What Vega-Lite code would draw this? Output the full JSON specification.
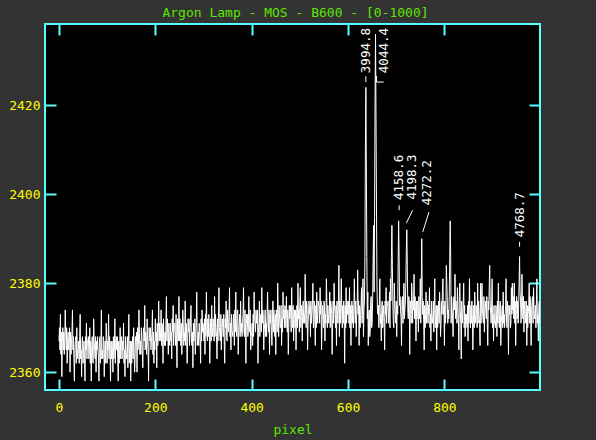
{
"$schema": "https://vega.github.io/schema/vega-lite/v6.json",
"width": 495, "height": 366,
"autosize": {"type": "none"},
"padding": {"left": 45, "top": 24, "right": 56, "bottom": 50},
"background": "#333333",
"title": {"text": "Argon Lamp - MOS - B600 - [0-1000]", "color": "#5ce600", "font": "DejaVu Sans Mono", "fontSize": 13, "fontWeight": "normal", "anchor": "middle", "offset": 3, "dx": 3},
"config": {
  "view": {"stroke": "#55ffff", "strokeWidth": 2, "fill": "#000000"},
  "axis": {"domain": false, "grid": false, "tickColor": "#55ffff", "tickWidth": 2, "tickSize": -11,
           "labelColor": "#ffff00", "labelFont": "DejaVu Sans Mono", "labelFontSize": 13,
           "titleColor": "#5ce600", "titleFont": "DejaVu Sans Mono", "titleFontSize": 13, "titleFontWeight": "normal"}
},
"resolve": {"axis": {"x": "independent", "y": "independent"}},
"layer": [
{
 "data": {"values": [
{"x":0,"y":2367},{"x":1,"y":2370},{"x":2,"y":2365},{"x":3,"y":2373},{"x":4,"y":2364},{"x":5,"y":2369},{"x":6,"y":2359},{"x":7,"y":2367},{"x":8,"y":2370},{"x":9,"y":2365},
{"x":10,"y":2369},{"x":11,"y":2364},{"x":12,"y":2367},{"x":13,"y":2374},{"x":14,"y":2369},{"x":15,"y":2365},{"x":16,"y":2370},{"x":17,"y":2362},{"x":18,"y":2367},{"x":19,"y":2369},
{"x":20,"y":2365},{"x":21,"y":2367},{"x":22,"y":2370},{"x":23,"y":2360},{"x":24,"y":2369},{"x":25,"y":2364},{"x":26,"y":2367},{"x":27,"y":2369},{"x":28,"y":2374},{"x":29,"y":2365},
{"x":30,"y":2368},{"x":31,"y":2363},{"x":32,"y":2358},{"x":33,"y":2365},{"x":34,"y":2367},{"x":35,"y":2368},{"x":36,"y":2362},{"x":37,"y":2370},{"x":38,"y":2365},{"x":39,"y":2363},
{"x":40,"y":2365},{"x":41,"y":2367},{"x":42,"y":2362},{"x":43,"y":2368},{"x":44,"y":2373},{"x":45,"y":2363},{"x":46,"y":2365},{"x":47,"y":2359},{"x":48,"y":2367},{"x":49,"y":2368},
{"x":50,"y":2362},{"x":51,"y":2365},{"x":52,"y":2367},{"x":53,"y":2363},{"x":54,"y":2358},{"x":55,"y":2368},{"x":56,"y":2365},{"x":57,"y":2371},{"x":58,"y":2363},{"x":59,"y":2367},
{"x":60,"y":2367},{"x":61,"y":2368},{"x":62,"y":2363},{"x":63,"y":2365},{"x":64,"y":2370},{"x":65,"y":2362},{"x":66,"y":2367},{"x":67,"y":2358},{"x":68,"y":2365},{"x":69,"y":2368},
{"x":70,"y":2363},{"x":71,"y":2362},{"x":72,"y":2372},{"x":73,"y":2367},{"x":74,"y":2365},{"x":75,"y":2363},{"x":76,"y":2368},{"x":77,"y":2360},{"x":78,"y":2367},{"x":79,"y":2365},
{"x":80,"y":2368},{"x":81,"y":2365},{"x":82,"y":2363},{"x":83,"y":2358},{"x":84,"y":2367},{"x":85,"y":2368},{"x":86,"y":2362},{"x":87,"y":2365},{"x":88,"y":2374},{"x":89,"y":2363},
{"x":90,"y":2365},{"x":91,"y":2363},{"x":92,"y":2368},{"x":93,"y":2367},{"x":94,"y":2359},{"x":95,"y":2365},{"x":96,"y":2367},{"x":97,"y":2362},{"x":98,"y":2371},{"x":99,"y":2368},
{"x":100,"y":2362},{"x":101,"y":2367},{"x":102,"y":2365},{"x":103,"y":2373},{"x":104,"y":2363},{"x":105,"y":2368},{"x":106,"y":2365},{"x":107,"y":2358},{"x":108,"y":2367},{"x":109,"y":2363},
{"x":110,"y":2367},{"x":111,"y":2365},{"x":112,"y":2360},{"x":113,"y":2368},{"x":114,"y":2363},{"x":115,"y":2365},{"x":116,"y":2372},{"x":117,"y":2362},{"x":118,"y":2367},{"x":119,"y":2368},
{"x":120,"y":2365},{"x":121,"y":2368},{"x":122,"y":2363},{"x":123,"y":2358},{"x":124,"y":2367},{"x":125,"y":2362},{"x":126,"y":2365},{"x":127,"y":2370},{"x":128,"y":2363},{"x":129,"y":2367},
{"x":130,"y":2368},{"x":131,"y":2363},{"x":132,"y":2367},{"x":133,"y":2365},{"x":134,"y":2371},{"x":135,"y":2362},{"x":136,"y":2365},{"x":137,"y":2359},{"x":138,"y":2368},{"x":139,"y":2363},
{"x":140,"y":2363},{"x":141,"y":2365},{"x":142,"y":2368},{"x":143,"y":2361},{"x":144,"y":2367},{"x":145,"y":2373},{"x":146,"y":2362},{"x":147,"y":2365},{"x":148,"y":2367},{"x":149,"y":2358},
{"x":150,"y":2367},{"x":151,"y":2362},{"x":152,"y":2365},{"x":153,"y":2368},{"x":154,"y":2363},{"x":155,"y":2370},{"x":156,"y":2365},{"x":157,"y":2360},{"x":158,"y":2363},{"x":159,"y":2368},
{"x":160,"y":2367},{"x":161,"y":2369},{"x":162,"y":2360},{"x":163,"y":2370},{"x":164,"y":2365},{"x":165,"y":2367},{"x":166,"y":2374},{"x":167,"y":2369},{"x":168,"y":2364},{"x":169,"y":2367},
{"x":170,"y":2364},{"x":171,"y":2370},{"x":172,"y":2367},{"x":173,"y":2365},{"x":174,"y":2361},{"x":175,"y":2369},{"x":176,"y":2370},{"x":177,"y":2367},{"x":178,"y":2375},{"x":179,"y":2365},
{"x":180,"y":2369},{"x":181,"y":2367},{"x":182,"y":2364},{"x":183,"y":2372},{"x":184,"y":2367},{"x":185,"y":2365},{"x":186,"y":2358},{"x":187,"y":2370},{"x":188,"y":2369},{"x":189,"y":2367},
{"x":190,"y":2370},{"x":191,"y":2365},{"x":192,"y":2367},{"x":193,"y":2369},{"x":194,"y":2374},{"x":195,"y":2364},{"x":196,"y":2369},{"x":197,"y":2362},{"x":198,"y":2367},{"x":199,"y":2365},
{"x":200,"y":2372},{"x":201,"y":2367},{"x":202,"y":2369},{"x":203,"y":2361},{"x":204,"y":2371},{"x":205,"y":2366},{"x":206,"y":2369},{"x":207,"y":2376},{"x":208,"y":2367},{"x":209,"y":2371},
{"x":210,"y":2367},{"x":211,"y":2369},{"x":212,"y":2374},{"x":213,"y":2366},{"x":214,"y":2371},{"x":215,"y":2369},{"x":216,"y":2362},{"x":217,"y":2372},{"x":218,"y":2367},{"x":219,"y":2366},
{"x":220,"y":2369},{"x":221,"y":2366},{"x":222,"y":2371},{"x":223,"y":2377},{"x":224,"y":2367},{"x":225,"y":2372},{"x":226,"y":2369},{"x":227,"y":2364},{"x":228,"y":2371},{"x":229,"y":2367},
{"x":230,"y":2366},{"x":231,"y":2371},{"x":232,"y":2367},{"x":233,"y":2369},{"x":234,"y":2363},{"x":235,"y":2372},{"x":236,"y":2369},{"x":237,"y":2375},{"x":238,"y":2366},{"x":239,"y":2371},
{"x":240,"y":2371},{"x":241,"y":2369},{"x":242,"y":2366},{"x":243,"y":2373},{"x":244,"y":2367},{"x":245,"y":2361},{"x":246,"y":2372},{"x":247,"y":2369},{"x":248,"y":2367},{"x":249,"y":2377},
{"x":250,"y":2367},{"x":251,"y":2372},{"x":252,"y":2369},{"x":253,"y":2366},{"x":254,"y":2371},{"x":255,"y":2364},{"x":256,"y":2369},{"x":257,"y":2374},{"x":258,"y":2371},{"x":259,"y":2366},
{"x":260,"y":2369},{"x":261,"y":2367},{"x":262,"y":2376},{"x":263,"y":2366},{"x":264,"y":2371},{"x":265,"y":2369},{"x":266,"y":2362},{"x":267,"y":2367},{"x":268,"y":2372},{"x":269,"y":2369},
{"x":270,"y":2372},{"x":271,"y":2366},{"x":272,"y":2369},{"x":273,"y":2371},{"x":274,"y":2375},{"x":275,"y":2367},{"x":276,"y":2366},{"x":277,"y":2369},{"x":278,"y":2361},{"x":279,"y":2371},
{"x":280,"y":2367},{"x":281,"y":2369},{"x":282,"y":2372},{"x":283,"y":2364},{"x":284,"y":2369},{"x":285,"y":2371},{"x":286,"y":2378},{"x":287,"y":2366},{"x":288,"y":2367},{"x":289,"y":2369},
{"x":290,"y":2366},{"x":291,"y":2371},{"x":292,"y":2369},{"x":293,"y":2367},{"x":294,"y":2362},{"x":295,"y":2372},{"x":296,"y":2367},{"x":297,"y":2374},{"x":298,"y":2369},{"x":299,"y":2371},
{"x":300,"y":2370},{"x":301,"y":2367},{"x":302,"y":2372},{"x":303,"y":2364},{"x":304,"y":2373},{"x":305,"y":2368},{"x":306,"y":2378},{"x":307,"y":2370},{"x":308,"y":2367},{"x":309,"y":2372},
{"x":310,"y":2368},{"x":311,"y":2373},{"x":312,"y":2370},{"x":313,"y":2362},{"x":314,"y":2368},{"x":315,"y":2372},{"x":316,"y":2367},{"x":317,"y":2375},{"x":318,"y":2370},{"x":319,"y":2368},
{"x":320,"y":2372},{"x":321,"y":2370},{"x":322,"y":2367},{"x":323,"y":2377},{"x":324,"y":2368},{"x":325,"y":2373},{"x":326,"y":2370},{"x":327,"y":2368},{"x":328,"y":2363},{"x":329,"y":2372},
{"x":330,"y":2367},{"x":331,"y":2372},{"x":332,"y":2379},{"x":333,"y":2370},{"x":334,"y":2368},{"x":335,"y":2367},{"x":336,"y":2373},{"x":337,"y":2365},{"x":338,"y":2370},{"x":339,"y":2372},
{"x":340,"y":2370},{"x":341,"y":2368},{"x":342,"y":2373},{"x":343,"y":2367},{"x":344,"y":2362},{"x":345,"y":2372},{"x":346,"y":2370},{"x":347,"y":2376},{"x":348,"y":2368},{"x":349,"y":2367},
{"x":350,"y":2374},{"x":351,"y":2371},{"x":352,"y":2369},{"x":353,"y":2373},{"x":354,"y":2379},{"x":355,"y":2368},{"x":356,"y":2371},{"x":357,"y":2365},{"x":358,"y":2373},{"x":359,"y":2369},
{"x":360,"y":2369},{"x":361,"y":2368},{"x":362,"y":2373},{"x":363,"y":2371},{"x":364,"y":2366},{"x":365,"y":2374},{"x":366,"y":2369},{"x":367,"y":2378},{"x":368,"y":2371},{"x":369,"y":2368},
{"x":370,"y":2373},{"x":371,"y":2374},{"x":372,"y":2364},{"x":373,"y":2369},{"x":374,"y":2371},{"x":375,"y":2373},{"x":376,"y":2368},{"x":377,"y":2376},{"x":378,"y":2369},{"x":379,"y":2371},
{"x":380,"y":2368},{"x":381,"y":2371},{"x":382,"y":2373},{"x":383,"y":2379},{"x":384,"y":2369},{"x":385,"y":2368},{"x":386,"y":2374},{"x":387,"y":2371},{"x":388,"y":2362},{"x":389,"y":2373},
{"x":390,"y":2371},{"x":391,"y":2373},{"x":392,"y":2368},{"x":393,"y":2369},{"x":394,"y":2377},{"x":395,"y":2371},{"x":396,"y":2369},{"x":397,"y":2374},{"x":398,"y":2365},{"x":399,"y":2368},
{"x":400,"y":2369},{"x":401,"y":2371},{"x":402,"y":2366},{"x":403,"y":2373},{"x":404,"y":2368},{"x":405,"y":2378},{"x":406,"y":2373},{"x":407,"y":2371},{"x":408,"y":2369},{"x":409,"y":2374},
{"x":410,"y":2371},{"x":411,"y":2373},{"x":412,"y":2374},{"x":413,"y":2362},{"x":414,"y":2369},{"x":415,"y":2371},{"x":416,"y":2376},{"x":417,"y":2368},{"x":418,"y":2371},{"x":419,"y":2373},
{"x":420,"y":2369},{"x":421,"y":2379},{"x":422,"y":2371},{"x":423,"y":2374},{"x":424,"y":2373},{"x":425,"y":2365},{"x":426,"y":2369},{"x":427,"y":2371},{"x":428,"y":2374},{"x":429,"y":2368},
{"x":430,"y":2371},{"x":431,"y":2368},{"x":432,"y":2373},{"x":433,"y":2378},{"x":434,"y":2371},{"x":435,"y":2369},{"x":436,"y":2374},{"x":437,"y":2364},{"x":438,"y":2373},{"x":439,"y":2371},
{"x":440,"y":2374},{"x":441,"y":2369},{"x":442,"y":2366},{"x":443,"y":2371},{"x":444,"y":2376},{"x":445,"y":2369},{"x":446,"y":2374},{"x":447,"y":2371},{"x":448,"y":2368},{"x":449,"y":2373},
{"x":450,"y":2364},{"x":451,"y":2374},{"x":452,"y":2372},{"x":453,"y":2369},{"x":454,"y":2380},{"x":455,"y":2374},{"x":456,"y":2368},{"x":457,"y":2375},{"x":458,"y":2372},{"x":459,"y":2370},
{"x":460,"y":2370},{"x":461,"y":2375},{"x":462,"y":2366},{"x":463,"y":2372},{"x":464,"y":2369},{"x":465,"y":2378},{"x":466,"y":2372},{"x":467,"y":2374},{"x":468,"y":2370},{"x":469,"y":2375},
{"x":470,"y":2374},{"x":471,"y":2370},{"x":472,"y":2377},{"x":473,"y":2372},{"x":474,"y":2369},{"x":475,"y":2374},{"x":476,"y":2364},{"x":477,"y":2370},{"x":478,"y":2375},{"x":479,"y":2372},
{"x":480,"y":2375},{"x":481,"y":2374},{"x":482,"y":2369},{"x":483,"y":2379},{"x":484,"y":2372},{"x":485,"y":2370},{"x":486,"y":2375},{"x":487,"y":2367},{"x":488,"y":2372},{"x":489,"y":2374},
{"x":490,"y":2370},{"x":491,"y":2374},{"x":492,"y":2365},{"x":493,"y":2372},{"x":494,"y":2375},{"x":495,"y":2370},{"x":496,"y":2380},{"x":497,"y":2372},{"x":498,"y":2374},{"x":499,"y":2369},
{"x":500,"y":2376},{"x":501,"y":2379},{"x":502,"y":2370},{"x":503,"y":2375},{"x":504,"y":2373},{"x":505,"y":2367},{"x":506,"y":2375},{"x":507,"y":2376},{"x":508,"y":2371},{"x":509,"y":2373},
{"x":510,"y":2371},{"x":511,"y":2382},{"x":512,"y":2373},{"x":513,"y":2370},{"x":514,"y":2376},{"x":515,"y":2375},{"x":516,"y":2365},{"x":517,"y":2371},{"x":518,"y":2373},{"x":519,"y":2376},
{"x":520,"y":2373},{"x":521,"y":2375},{"x":522,"y":2368},{"x":523,"y":2376},{"x":524,"y":2371},{"x":525,"y":2373},{"x":526,"y":2375},{"x":527,"y":2380},{"x":528,"y":2370},{"x":529,"y":2371},
{"x":530,"y":2376},{"x":531,"y":2373},{"x":532,"y":2366},{"x":533,"y":2375},{"x":534,"y":2370},{"x":535,"y":2378},{"x":536,"y":2373},{"x":537,"y":2371},{"x":538,"y":2376},{"x":539,"y":2375},
{"x":540,"y":2375},{"x":541,"y":2371},{"x":542,"y":2379},{"x":543,"y":2373},{"x":544,"y":2376},{"x":545,"y":2365},{"x":546,"y":2371},{"x":547,"y":2375},{"x":548,"y":2373},{"x":549,"y":2370},
{"x":550,"y":2376},{"x":551,"y":2375},{"x":552,"y":2367},{"x":553,"y":2373},{"x":554,"y":2371},{"x":555,"y":2381},{"x":556,"y":2376},{"x":557,"y":2370},{"x":558,"y":2375},{"x":559,"y":2373},
{"x":560,"y":2371},{"x":561,"y":2373},{"x":562,"y":2378},{"x":563,"y":2370},{"x":564,"y":2376},{"x":565,"y":2375},{"x":566,"y":2373},{"x":567,"y":2364},{"x":568,"y":2371},{"x":569,"y":2376},
{"x":570,"y":2371},{"x":571,"y":2380},{"x":572,"y":2375},{"x":573,"y":2373},{"x":574,"y":2370},{"x":575,"y":2375},{"x":576,"y":2366},{"x":577,"y":2376},{"x":578,"y":2373},{"x":579,"y":2371},
{"x":580,"y":2375},{"x":581,"y":2384},{"x":582,"y":2368},{"x":583,"y":2376},{"x":584,"y":2371},{"x":585,"y":2375},{"x":586,"y":2381},{"x":587,"y":2373},{"x":588,"y":2370},{"x":589,"y":2375},
{"x":590,"y":2371},{"x":591,"y":2376},{"x":592,"y":2373},{"x":593,"y":2362},{"x":594,"y":2375},{"x":595,"y":2370},{"x":596,"y":2379},{"x":597,"y":2371},{"x":598,"y":2376},{"x":599,"y":2373},
{"x":600,"y":2373},{"x":601,"y":2376},{"x":602,"y":2371},{"x":603,"y":2379},{"x":604,"y":2370},{"x":605,"y":2375},{"x":606,"y":2366},{"x":607,"y":2373},{"x":608,"y":2376},{"x":609,"y":2371},
{"x":610,"y":2375},{"x":611,"y":2370},{"x":612,"y":2373},{"x":613,"y":2381},{"x":614,"y":2375},{"x":615,"y":2371},{"x":616,"y":2376},{"x":617,"y":2368},{"x":618,"y":2373},{"x":619,"y":2375},
{"x":620,"y":2383},{"x":621,"y":2373},{"x":622,"y":2376},{"x":623,"y":2366},{"x":624,"y":2375},{"x":625,"y":2370},{"x":626,"y":2373},{"x":627,"y":2375},{"x":628,"y":2379},{"x":629,"y":2371},
{"x":630,"y":2373},{"x":631,"y":2381},{"x":632,"y":2368},{"x":633,"y":2374},{"x":634,"y":2376},{"x":635,"y":2386},{"x":636,"y":2410},{"x":637,"y":2424},{"x":638,"y":2405},{"x":639,"y":2386},
{"x":640,"y":2372},{"x":641,"y":2378},{"x":642,"y":2366},{"x":643,"y":2373},{"x":644,"y":2374},{"x":645,"y":2368},{"x":646,"y":2369},{"x":647,"y":2376},{"x":648,"y":2377},{"x":649,"y":2370},
{"x":650,"y":2371},{"x":651,"y":2376},{"x":652,"y":2385},{"x":653,"y":2393},{"x":654,"y":2378},{"x":655,"y":2395},{"x":656,"y":2420},{"x":657,"y":2436},{"x":658,"y":2418},{"x":659,"y":2398},
{"x":660,"y":2380},{"x":661,"y":2374},
{"x":662,"y":2373},{"x":663,"y":2375},{"x":664,"y":2370},{"x":665,"y":2376},{"x":666,"y":2381},{"x":667,"y":2371},{"x":668,"y":2373},{"x":669,"y":2367},{"x":670,"y":2375},{"x":671,"y":2376},
{"x":672,"y":2370},{"x":673,"y":2373},{"x":674,"y":2375},{"x":675,"y":2371},{"x":676,"y":2365},{"x":677,"y":2376},{"x":678,"y":2373},{"x":679,"y":2379},{"x":680,"y":2371},{"x":681,"y":2375},
{"x":682,"y":2375},{"x":683,"y":2376},{"x":684,"y":2371},{"x":685,"y":2373},{"x":686,"y":2378},{"x":687,"y":2370},
{"x":688,"y":2381},{"x":689,"y":2376},{"x":690,"y":2386},{"x":691,"y":2393},{"x":692,"y":2384},{"x":693,"y":2375},
{"x":694,"y":2371},{"x":695,"y":2370},{"x":696,"y":2380},{"x":697,"y":2375},{"x":698,"y":2373},{"x":699,"y":2371},{"x":700,"y":2376},{"x":701,"y":2368},{"x":702,"y":2375},{"x":703,"y":2373},
{"x":704,"y":2385},{"x":705,"y":2394},{"x":706,"y":2386},{"x":707,"y":2375},
{"x":708,"y":2377},{"x":709,"y":2374},{"x":710,"y":2372},{"x":711,"y":2366},{"x":712,"y":2376},{"x":713,"y":2377},{"x":714,"y":2371},{"x":715,"y":2374},{"x":716,"y":2380},{"x":717,"y":2372},
{"x":718,"y":2374},{"x":719,"y":2376},
{"x":720,"y":2380},{"x":721,"y":2388},{"x":722,"y":2392},{"x":723,"y":2384},
{"x":724,"y":2374},{"x":725,"y":2372},{"x":726,"y":2377},{"x":727,"y":2376},{"x":728,"y":2364},{"x":729,"y":2374},{"x":730,"y":2376},{"x":731,"y":2371},{"x":732,"y":2380},{"x":733,"y":2377},
{"x":734,"y":2371},{"x":735,"y":2376},{"x":736,"y":2374},{"x":737,"y":2382},{"x":738,"y":2372},{"x":739,"y":2377},{"x":740,"y":2374},{"x":741,"y":2367},{"x":742,"y":2376},{"x":743,"y":2372},
{"x":744,"y":2376},{"x":745,"y":2374},{"x":746,"y":2369},{"x":747,"y":2377},{"x":748,"y":2372},{"x":749,"y":2374},{"x":750,"y":2381},{"x":751,"y":2371},
{"x":752,"y":2380},{"x":753,"y":2390},{"x":754,"y":2377},
{"x":755,"y":2373},{"x":756,"y":2376},{"x":757,"y":2371},{"x":758,"y":2365},{"x":759,"y":2375},{"x":760,"y":2370},{"x":761,"y":2373},{"x":762,"y":2378},{"x":763,"y":2371},{"x":764,"y":2375},
{"x":765,"y":2376},{"x":766,"y":2371},{"x":767,"y":2375},{"x":768,"y":2373},{"x":769,"y":2379},{"x":770,"y":2370},{"x":771,"y":2373},{"x":772,"y":2367},{"x":773,"y":2376},{"x":774,"y":2371},
{"x":775,"y":2371},{"x":776,"y":2373},{"x":777,"y":2376},{"x":778,"y":2369},{"x":779,"y":2375},{"x":780,"y":2381},{"x":781,"y":2370},{"x":782,"y":2373},{"x":783,"y":2375},{"x":784,"y":2365},
{"x":785,"y":2375},{"x":786,"y":2370},{"x":787,"y":2373},{"x":788,"y":2376},{"x":789,"y":2371},{"x":790,"y":2378},{"x":791,"y":2373},{"x":792,"y":2368},{"x":793,"y":2371},{"x":794,"y":2376},
{"x":795,"y":2373},
{"x":796,"y":2379},{"x":797,"y":2381},
{"x":798,"y":2373},{"x":799,"y":2375},{"x":800,"y":2366},{"x":801,"y":2376},{"x":802,"y":2371},{"x":803,"y":2373},
{"x":804,"y":2384},
{"x":805,"y":2380},{"x":806,"y":2376},{"x":807,"y":2371},{"x":808,"y":2374},{"x":809,"y":2372},{"x":810,"y":2377},
{"x":811,"y":2385},{"x":812,"y":2394},{"x":813,"y":2386},
{"x":814,"y":2371},{"x":815,"y":2377},{"x":816,"y":2374},{"x":817,"y":2372},{"x":818,"y":2368},{"x":819,"y":2376},{"x":820,"y":2377},{"x":821,"y":2374},{"x":822,"y":2382},{"x":823,"y":2372},
{"x":824,"y":2376},{"x":825,"y":2374},{"x":826,"y":2371},{"x":827,"y":2379},{"x":828,"y":2374},{"x":829,"y":2372},{"x":830,"y":2365},{"x":831,"y":2377},
{"x":832,"y":2380},{"x":833,"y":2374},{"x":834,"y":2371},{"x":835,"y":2363},
{"x":836,"y":2376},{"x":837,"y":2371},{"x":838,"y":2373},{"x":839,"y":2375},{"x":840,"y":2380},{"x":841,"y":2370},{"x":842,"y":2375},{"x":843,"y":2368},{"x":844,"y":2373},{"x":845,"y":2371},
{"x":846,"y":2373},{"x":847,"y":2370},{"x":848,"y":2375},{"x":849,"y":2367},{"x":850,"y":2376},{"x":851,"y":2371},{"x":852,"y":2381},{"x":853,"y":2373},{"x":854,"y":2370},{"x":855,"y":2375},
{"x":856,"y":2371},{"x":857,"y":2376},{"x":858,"y":2373},{"x":859,"y":2365},{"x":860,"y":2371},{"x":861,"y":2375},{"x":862,"y":2370},{"x":863,"y":2378},{"x":864,"y":2373},{"x":865,"y":2371},
{"x":866,"y":2375},{"x":867,"y":2373},{"x":868,"y":2370},{"x":869,"y":2380},{"x":870,"y":2371},{"x":871,"y":2376},{"x":872,"y":2373},{"x":873,"y":2371},{"x":874,"y":2366},
{"x":875,"y":2380},
{"x":876,"y":2371},{"x":877,"y":2376},{"x":878,"y":2380},{"x":879,"y":2374},{"x":880,"y":2372},{"x":881,"y":2371},{"x":882,"y":2377},{"x":883,"y":2369},{"x":884,"y":2374},{"x":885,"y":2376},
{"x":886,"y":2374},{"x":887,"y":2372},{"x":888,"y":2377},{"x":889,"y":2371},{"x":890,"y":2366},{"x":891,"y":2376},{"x":892,"y":2374},
{"x":893,"y":2379},{"x":894,"y":2384},
{"x":895,"y":2376},{"x":896,"y":2373},{"x":897,"y":2371},{"x":898,"y":2375},{"x":899,"y":2381},{"x":900,"y":2370},{"x":901,"y":2373},{"x":902,"y":2367},{"x":903,"y":2375},{"x":904,"y":2371},
{"x":905,"y":2371},{"x":906,"y":2370},{"x":907,"y":2375},{"x":908,"y":2373},{"x":909,"y":2368},{"x":910,"y":2376},{"x":911,"y":2371},{"x":912,"y":2380},{"x":913,"y":2373},{"x":914,"y":2370},
{"x":915,"y":2375},{"x":916,"y":2376},{"x":917,"y":2366},{"x":918,"y":2371},{"x":919,"y":2373},{"x":920,"y":2375},{"x":921,"y":2370},{"x":922,"y":2378},{"x":923,"y":2371},{"x":924,"y":2373},
{"x":925,"y":2370},{"x":926,"y":2373},{"x":927,"y":2375},{"x":928,"y":2381},{"x":929,"y":2371},{"x":930,"y":2370},{"x":931,"y":2376},{"x":932,"y":2373},{"x":933,"y":2364},{"x":934,"y":2375},
{"x":935,"y":2373},{"x":936,"y":2375},{"x":937,"y":2370},{"x":938,"y":2371},{"x":939,"y":2379},{"x":940,"y":2373},
{"x":941,"y":2380},
{"x":942,"y":2374},{"x":943,"y":2377},{"x":944,"y":2372},{"x":945,"y":2380},{"x":946,"y":2371},{"x":947,"y":2376},{"x":948,"y":2366},{"x":949,"y":2374},{"x":950,"y":2377},{"x":951,"y":2372},
{"x":952,"y":2376},{"x":953,"y":2371},{"x":954,"y":2374},
{"x":955,"y":2380},{"x":956,"y":2386},{"x":957,"y":2378},
{"x":958,"y":2376},{"x":959,"y":2371},{"x":960,"y":2374},{"x":961,"y":2382},{"x":962,"y":2376},{"x":963,"y":2372},{"x":964,"y":2377},{"x":965,"y":2369},{"x":966,"y":2374},{"x":967,"y":2376},
{"x":968,"y":2371},{"x":969,"y":2373},{"x":970,"y":2376},{"x":971,"y":2366},{"x":972,"y":2375},{"x":973,"y":2370},{"x":974,"y":2373},{"x":975,"y":2375},{"x":976,"y":2380},{"x":977,"y":2371},
{"x":978,"y":2377},{"x":979,"y":2372},{"x":980,"y":2366},{"x":981,"y":2374},{"x":982,"y":2376},{"x":983,"y":2377},{"x":984,"y":2371},{"x":985,"y":2379},{"x":986,"y":2374},{"x":987,"y":2372},
{"x":988,"y":2373},{"x":989,"y":2375},{"x":990,"y":2370},{"x":991,"y":2376},{"x":992,"y":2381},{"x":993,"y":2371},{"x":994,"y":2373},{"x":995,"y":2367},{"x":996,"y":2375},{"x":997,"y":2376},
{"x":998,"y":2371},{"x":999,"y":2374},{"x":1000,"y":2373}
 ]},
 "mark": {"type": "line", "color": "#ffffff", "strokeWidth": 1, "clip": true},
 "encoding": {
  "x": {"field": "x", "type": "quantitative", "scale": {"domain": [-29, 998.4], "nice": false, "zero": false},
        "axis": {"orient": "bottom", "values": [0, 200, 400, 600, 800], "title": "pixel", "labelPadding": 22, "titlePadding": 9}},
  "y": {"field": "y", "type": "quantitative", "scale": {"domain": [2356, 2438.25], "nice": false, "zero": false},
        "axis": {"orient": "left", "values": [2360, 2380, 2400, 2420], "format": "d", "title": null, "labelPadding": 16}}
 }
},
{
 "data": {"values": [
  {"x":637,"y":2425.2,"x2":637,"y2":2426.5},
  {"x":659,"y":2425.2,"x2":674,"y2":2425.2},
  {"x":659,"y":2425.2,"x2":659,"y2":2426.6},
  {"x":706,"y":2396.4,"x2":706,"y2":2397.5},
  {"x":721,"y":2393.5,"x2":734,"y2":2396.4},
  {"x":755,"y":2391.5,"x2":768,"y2":2396},
  {"x":956,"y":2388.2,"x2":956,"y2":2389.3}
 ]},
 "mark": {"type": "rule", "color": "#ffffff", "strokeWidth": 1},
 "encoding": {
  "x": {"field": "x", "type": "quantitative", "scale": {"domain": [-29, 998.4], "nice": false, "zero": false}, "axis": null},
  "y": {"field": "y", "type": "quantitative", "scale": {"domain": [2356, 2438.25], "nice": false, "zero": false}, "axis": null},
  "x2": {"field": "x2"},
  "y2": {"field": "y2"}
 }
},
{
 "data": {"values": [
  {"t":"3994.8","x":637,"y":2427.2},
  {"t":"4044.4","x":675,"y":2427.2},
  {"t":"4158.6","x":706,"y":2398.7},
  {"t":"4198.3","x":733,"y":2398.8},
  {"t":"4272.2","x":763,"y":2397.5},
  {"t":"4768.7","x":956,"y":2390.3}
 ]},
 "mark": {"type": "text", "angle": 270, "align": "left", "baseline": "middle", "color": "#ffffff", "font": "DejaVu Sans Mono", "fontSize": 12.5},
 "encoding": {
  "x": {"field": "x", "type": "quantitative", "scale": {"domain": [-29, 998.4], "nice": false, "zero": false},
        "axis": {"orient": "top", "values": [0, 200, 400, 600, 800], "labels": false, "title": null}},
  "y": {"field": "y", "type": "quantitative", "scale": {"domain": [2356, 2438.25], "nice": false, "zero": false},
        "axis": {"orient": "right", "values": [2360, 2380, 2400, 2420], "labels": false, "title": null}},
  "text": {"field": "t"}
 }
}
]
}
